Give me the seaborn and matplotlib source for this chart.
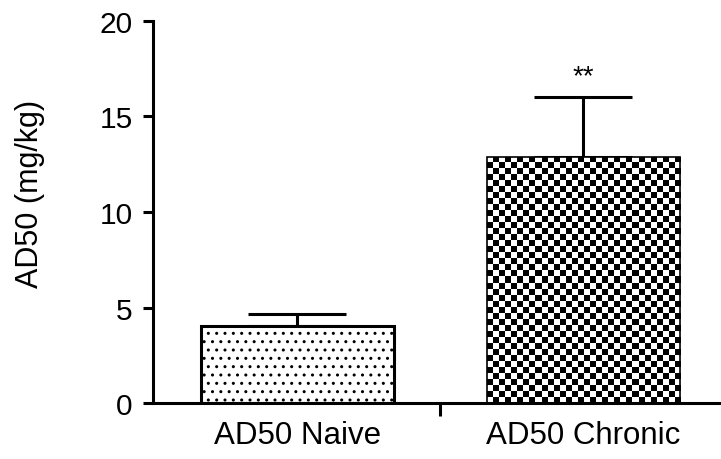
import numpy as np
import pandas as pd
import matplotlib
matplotlib.use("Agg")
import matplotlib.pyplot as plt
import seaborn as sns

# data
groups = ["AD50 Naive", "AD50 Chronic"]
means = [4.05, 12.9]
errs = [0.65, 3.1]
y_ticks = [0, 5, 10, 15, 20]
star_text = "**"

sns.set_style("ticks")
plt.rcParams['font.family'] = ['Liberation Sans', 'DejaVu Sans']
plt.rcParams['text.color'] = "black"
plt.rcParams['xtick.color'] = "black"
plt.rcParams['ytick.color'] = "black"
plt.rcParams['axes.labelcolor'] = "black"
plt.rcParams['hatch.linewidth'] = 1.0

df = pd.DataFrame({"group": groups, "ad50": means})

fig = plt.figure(figsize=(7.21, 4.60), dpi=100)
ax = fig.add_axes([0.2122, 0.1207, 0.7878, 0.8321])

sns.barplot(data=df, x="group", y="ad50", order=groups, errorbar=None,
            width=0.675, color="white", edgecolor="black", linewidth=2.2,
            ax=ax, zorder=2)

bars = ax.patches
# dotted fill for the naive bar
bars[0].set_hatch("..")

# checkerboard fill for the chronic bar
b = bars[1]
x0, y0 = b.get_x(), b.get_y()
w, h = b.get_width(), b.get_height()
n_x, n_y = 32, 41
checker = (np.add.outer(np.arange(n_y), np.arange(n_x)) % 2).astype(float)
img = ax.imshow(checker, cmap="gray_r", extent=[x0, x0 + w, y0, y0 + h],
                aspect="auto", interpolation="nearest", zorder=2.5)
img.set_clip_path(b)
b.set_zorder(3)
b.set_facecolor("none")
b.set_linewidth(1.2)

# upper error bars only
xs = np.arange(len(groups))
ax.errorbar(xs, means, yerr=[np.zeros(len(errs)), errs], fmt="none",
            ecolor="black", elinewidth=2.2, capsize=35, capthick=2.2, zorder=1)

ax.text(1, means[1] + errs[1] + 0.4, star_text, ha="center", va="bottom",
        fontsize=20)

ax.set_xlim(-0.505, 1.481)
ax.set_ylim(0, 20)
ax.set_yticks(y_ticks)
ax.set_xticks([0.5], minor=True)
ax.tick_params(axis="x", which="major", length=0, pad=12, labelsize=22.5)
ax.tick_params(axis="x", which="minor", length=9, width=2.2, direction="out")
ax.tick_params(axis="y", length=7.5, width=2.2, pad=7, labelsize=21.5)
ax.set_xlabel("")
ax.set_ylabel("AD50 (mg/kg)", fontsize=22)
ax.yaxis.set_label_coords(-0.19, 0.55)

sns.despine(ax=ax)
for s in ["left", "bottom"]:
    ax.spines[s].set_linewidth(2.2)
    ax.spines[s].set_color("black")

fig.savefig("out.png", dpi=100)
